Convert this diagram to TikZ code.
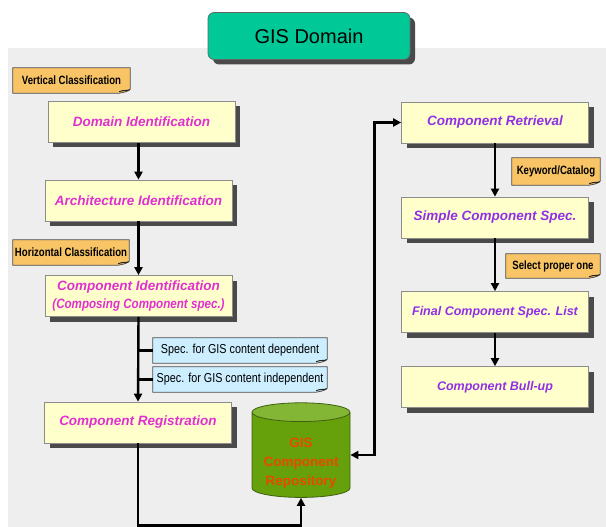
\documentclass[tikz,border=0pt]{standalone}
\usepackage{fontspec}
\setmainfont{Liberation Sans}
\newfontfamily\tagfont[FakeStretch=0.8]{Liberation Sans}
\newfontfamily\specfont[FakeStretch=0.83]{Liberation Sans}
\newfontfamily\boxcond[FakeStretch=0.86]{Liberation Sans}
\usetikzlibrary{arrows.meta,shadows,shapes.geometric,calc}
\definecolor{panelgray}{HTML}{EEEEEE}
\definecolor{gisgreen}{HTML}{00C896}
\definecolor{boxyellow}{HTML}{FFFFCC}
\definecolor{lmag}{HTML}{E030D0}
\definecolor{rpur}{HTML}{9030E6}
\definecolor{tagorange}{HTML}{F8C466}
\definecolor{tagblue}{HTML}{CCEEFF}
\definecolor{cylbody}{HTML}{66A00A}
\definecolor{cyltop}{HTML}{82B634}
\definecolor{cylline}{HTML}{3F5F10}
\definecolor{cyltext}{HTML}{E84A00}
\definecolor{shadowgray}{HTML}{4A4A4A}
\pgfdeclarelayer{panel}
\pgfdeclarelayer{tagback}
\pgfsetlayers{panel,tagback,main}
\newcommand\tagoutline[2]{%
  \begin{pgfonlayer}{tagback}
    \draw[black!70, line width=0.8pt, fill=#2]
      (#1.north west) -- (#1.north east) -- ($(#1.south east)+(0,-4)$)
      .. controls ($(#1.south east)+(-3,-1)$) and ($(#1.south east)+(-7,-1)$) .. ($(#1.south east)+(-11,0)$)
      -- (#1.south west) -- cycle;
    \draw[black!85, line width=1pt]
      ($(#1.south east)+(-11,-1.5)$) .. controls ($(#1.south east)+(-7,-3.5)$) and ($(#1.south east)+(-3,-2)$) .. ($(#1.south east)+(-0.5,-3.5)$);
  \end{pgfonlayer}}
\tikzset{
  x=1pt, y=-1pt,
  shadowed/.style={drop shadow={shadow xshift=5pt, shadow yshift=-5pt, fill=shadowgray, opacity=1}},
  box/.style={draw=black!45, line width=0.7pt, fill=boxyellow, minimum width=187pt, minimum height=41pt,
    inner sep=0pt, align=center, shadowed,
    font=\fontsize{13.5}{18}\selectfont\bfseries\itshape},
  lbox/.style={box, text=lmag},
  rbox/.style={box, text=rpur},
  otag/.style={inner sep=0pt, text=black, font={\tagfont\fontsize{12}{13}\selectfont\bfseries}},
  btag/.style={inner sep=0pt, text=black, font={\specfont\fontsize{13}{14}\selectfont}},
  gisbox/.style={draw=black!60, line width=0.7pt, fill=gisgreen, rounded corners=6pt,
    minimum width=202pt, minimum height=47pt, font=\fontsize{20}{24}\selectfont,
    drop shadow={shadow xshift=5pt, shadow yshift=-5pt, fill=shadowgray, opacity=1}},
  repo/.style={cylinder, shape border rotate=90, aspect=0.25, minimum width=98pt, minimum height=94pt,
    draw=cylline, line width=0.8pt, cylinder uses custom fill, cylinder body fill=cylbody,
    cylinder end fill=cyltop, text=cyltext, align=center, inner sep=0pt,
    font=\fontsize{13.5}{19}\selectfont\bfseries},
  conn/.style={line width=2.4pt, black},
  arr/.style={conn, -{Triangle[length=8pt,width=8pt]}},
  dbl/.style={conn, {Triangle[length=8pt,width=8pt]}-{Triangle[length=8pt,width=8pt]}},
}
\begin{document}
\begin{tikzpicture}
\useasboundingbox (0,0) rectangle (606,527);
\begin{pgfonlayer}{panel}
  \fill[panelgray] (8,48) rectangle (606,527);
\end{pgfonlayer}

\node[gisbox] (gis) at (309,36) {GIS Domain};

% left column
\node[lbox] (dom) at (141.5,122) {Domain Identification};
\node[lbox] (arch) at (138.5,200.5) {Architecture Identification};
\node[lbox] (cid) at (138.5,296) {Component Identification\\{\boxcond\bfseries\itshape (Composing Component spec.)}};
\node[lbox] (reg) at (138,422.5) {Component Registration};

% right column
\node[rbox] (ret) at (495,122.5) {Component Retrieval};
\node[rbox] (simp) at (495,217.5) {Simple Component Spec.};
\node[rbox, font=\fontsize{12.5}{18}\selectfont\bfseries\itshape] (fin) at (495,312) {Final Component Spec. List};
\node[rbox, font=\fontsize{12.5}{18}\selectfont\bfseries\itshape] (bull) at (495,387) {Component Bull-up};

% repository
\node[repo] (rep) at (301,455) {\vphantom{X}\\[-3pt]GIS\\Component\\Repository};

% tags
\node[otag, minimum width=117pt, minimum height=25pt] (vc) at (71.5,80.5) {Vertical Classification};
\tagoutline{vc}{tagorange}
\node[otag, minimum width=116pt, minimum height=25pt] (hc) at (71,252.5) {Horizontal Classification};
\tagoutline{hc}{tagorange}
\node[otag, minimum width=88pt, minimum height=27pt] (kw) at (556,171.5) {Keyword/Catalog};
\tagoutline{kw}{tagorange}
\node[otag, minimum width=94pt, minimum height=24pt] (sp) at (553,266) {Select proper one};
\tagoutline{sp}{tagorange}
\node[btag, minimum width=174pt, minimum height=25pt] (dep) at (240,350.5) {Spec. for GIS content dependent};
\tagoutline{dep}{tagblue}
\node[btag, minimum width=174pt, minimum height=25pt] (ind) at (240,379.5) {Spec. for GIS content independent};
\tagoutline{ind}{tagblue}

% connectors
\draw[arr] (arch.north |- dom.south) -- (arch.north);
\draw[arr] (arch.south) -- (cid.north);
\draw[arr] (cid.south) -- (reg.north);
\draw[conn] (cid.south |- dep.west) -- (dep.west);
\draw[conn] (cid.south |- ind.west) -- (ind.west);
\draw[arr] (reg.south) -- ++(0,82) -| (rep.south);
\draw[dbl] (rep.east) -- ++(24,0) |- (ret.west);
\draw[arr] (ret.south) -- (simp.north);
\draw[arr] (simp.south) -- (fin.north);
\draw[arr] (fin.south) -- (bull.north);
\end{tikzpicture}
\end{document}
